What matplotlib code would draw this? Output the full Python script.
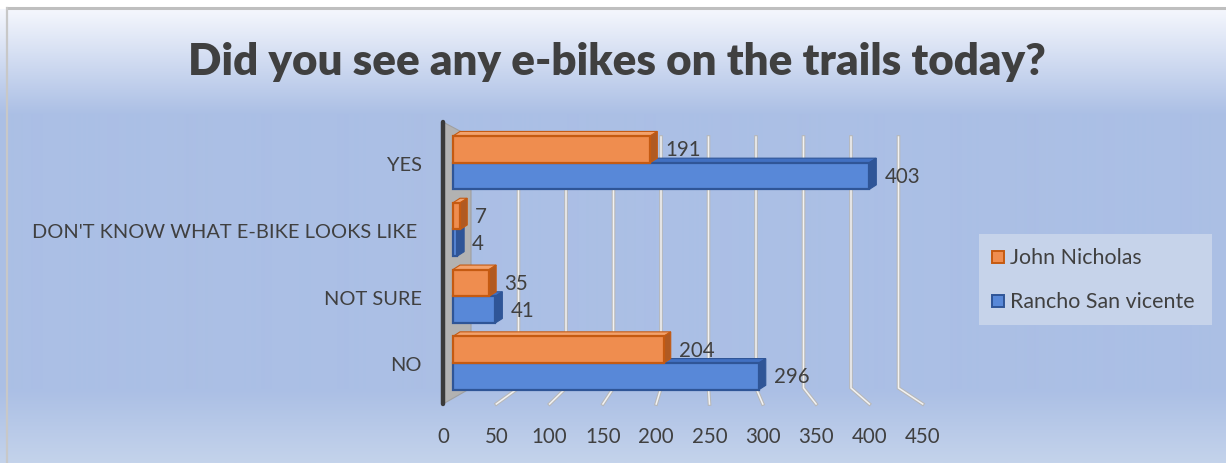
import numpy as np
import matplotlib
matplotlib.use("Agg")
import matplotlib.pyplot as plt
from matplotlib.patches import Polygon, Rectangle

plt.rcParams['font.family'] = ['Lato', 'DejaVu Sans']

# ---- data ----
categories = ["YES", "DON'T KNOW WHAT E-BIKE LOOKS LIKE ", "NOT SURE", "NO"]
series_names = ["John Nicholas", "Rancho San vicente"]
john_nicholas = [191, 7, 35, 204]
rancho_san_vicente = [403, 4, 41, 296]
tick_values = [0, 50, 100, 150, 200, 250, 300, 350, 400, 450]
title = "Did you see any e-bikes on the trails today?"

TXT = '#404040'
ORANGE = dict(face='#ef8d4f', edge='#c55a11', side='#b05a22', top='#f3a26c')
BLUE = dict(face='#5888d8', edge='#2f5597', side='#2f5597', top='#4170c2')

W, H = 1226, 464
fig = plt.figure(figsize=(W / 100, H / 100), dpi=100)

# ---- background: vertical gradient with a thin grey frame ----
bg = fig.add_axes([0, 0, 1, 1])
rows = np.arange(H)
stops_y = [0, 9, 10, 115, 390, 463]
c_top = np.array([1.0, 1.0, 1.0])
c_a = np.array([0xf5, 0xf7, 0xfd]) / 255
c_b = np.array([0xab, 0xbf, 0xe5]) / 255
c_c = np.array([0xc4, 0xd3, 0xeb]) / 255
stops_c = [c_top, c_top, c_a, c_b, c_b, c_c]
grad = np.stack([np.interp(rows, stops_y, [c[i] for c in stops_c]) for i in range(3)], axis=-1)
img = np.repeat(grad[:, None, :], 2, axis=1)
img[:9, :, :] = 1.0
bg.imshow(img, aspect='auto', extent=[0, W, H, 0], interpolation='bilinear')
bg.plot([6, W], [9, 9], color='#bfbfbf', lw=2.2, solid_capstyle='butt')
bg.plot([6.5, 6.5], [9, H], color='#c8c8c8', lw=1.6)
bg.set_xlim(0, W)
bg.set_ylim(H, 0)
bg.axis('off')

# ---- plot area ----
PX0, PXS = 453.0, 1.033          # pixel of value 0, pixels per unit
PY0, PYS = 164.0, 66.8           # pixel of first category, pixels per category
L, R, T, B = 430, 940, 115, 412
ax = fig.add_axes([L / W, (H - B) / H, (R - L) / W, (B - T) / H])
ax.set_xlim((L - PX0) / PXS, (R - PX0) / PXS)
ax.set_ylim((B - PY0) / PYS, (T - PY0) / PYS)
ax.patch.set_alpha(0)
for s in ax.spines.values():
    s.set_visible(False)


def px_x(p):
    return (p - PX0) / PXS


def px_y(p):
    return (p - PY0) / PYS


# perspective of the back wall / floor
back_x = lambda v: px_x(471 + 0.95 * v)
front_x = lambda v: px_x(443 + 1.066 * v)
wall_top, floor_back, floor_front = px_y(138), px_y(389), px_y(405)

for v in tick_values[1:]:
    xs = [back_x(v), back_x(v), front_x(v)]
    ys = [wall_top, floor_back, floor_front]
    ax.plot(xs, ys, color='#b8b8b8', lw=2.6, zorder=1, solid_joinstyle='miter')
    ax.plot(xs, ys, color='#f2f2f2', lw=1.1, zorder=1.1, solid_joinstyle='miter')

# side wall of the category axis
wall = Polygon([(px_x(443), px_y(123)), (px_x(471), px_y(138)),
                (px_x(471), px_y(389)), (px_x(443), px_y(405))],
               closed=True, facecolor='#b2b2b2', edgecolor='#a0a0a0', lw=0.8, zorder=1.5)
ax.add_patch(wall)
ax.plot([px_x(443), px_x(443)], [px_y(123), px_y(405)], color='#3a3a3a', lw=3.2,
        zorder=1.6, solid_capstyle='round')

# ---- 3D-style bars ----
pos = np.arange(len(categories))
bar_h = 0.4
offs = {0: -0.205, 1: 0.195}
DX, DY = 7 / PXS, -4.5 / PYS


def bar3d(values, off, col, z):
    rects = ax.barh(pos + off, values, height=bar_h, color=col['face'],
                    edgecolor=col['edge'], linewidth=1.6, zorder=z + 0.2)
    for rect in rects:
        x0, y0 = rect.get_x(), rect.get_y()
        x1, y1 = x0 + rect.get_width(), y0 + rect.get_height()
        top = Polygon([(x0, y0), (x1, y0), (x1 + DX, y0 + DY), (x0 + DX, y0 + DY)],
                      closed=True, facecolor=col['top'], edgecolor=col['edge'], lw=0.8, zorder=z)
        side = Polygon([(x1, y0), (x1, y1), (x1 + DX, y1 + DY), (x1 + DX, y0 + DY)],
                       closed=True, facecolor=col['side'], edgecolor=col['edge'], lw=0.8, zorder=z + 0.1)
        ax.add_patch(top)
        ax.add_patch(side)
    return rects


blue_bars = bar3d(rancho_san_vicente, offs[1], BLUE, 3)
orange_bars = bar3d(john_nicholas, offs[0], ORANGE, 5)

for rects, vals in ((orange_bars, john_nicholas), (blue_bars, rancho_san_vicente)):
    for rect, v in zip(rects, vals):
        ax.text(v + 15 / PXS, rect.get_y() + rect.get_height() / 2, f"{v}",
                ha='left', va='center', fontsize=14.8, color=TXT, zorder=10)

# ---- axes labels ----
ax.set_yticks(pos)
ax.set_yticklabels(categories, fontsize=14.4, color=TXT)
ax.tick_params(axis='y', length=0, pad=(L - 422) * 0.72)
ax.set_xticks([front_x(v) for v in tick_values])
ax.set_xticklabels([str(v) for v in tick_values], fontsize=14.8, color=TXT)
ax.tick_params(axis='x', length=0, pad=11)

# ---- title ----
fig.text(617 / W, 1 - 62 / H, title, ha='center', va='center', fontsize=31.6,
         fontweight='heavy', color=TXT)

# ---- legend ----
leg = fig.add_axes([979 / W, (H - 326) / H, (1212 - 979) / W, (326 - 235) / H])
leg.set_xlim(979, 1212)
leg.set_ylim(326, 235)
leg.axis('off')
leg.add_patch(Rectangle((979, 235), 233, 91, facecolor='#c6d3ea', edgecolor='none'))
for name, col, yc in ((series_names[0], ORANGE, 258), (series_names[1], BLUE, 302)):
    leg.add_patch(Rectangle((992, yc - 6), 12, 12, facecolor=col['face'],
                            edgecolor=col['edge'], lw=1.4))
    leg.text(1010, yc, name, ha='left', va='center', fontsize=15.4, color=TXT)

fig.savefig("out.png", dpi=100)
